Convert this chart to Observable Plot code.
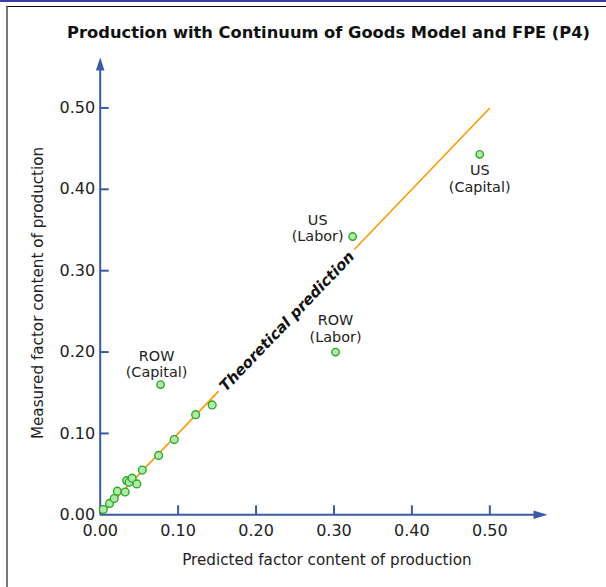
<!DOCTYPE html>
<html><head><meta charset="utf-8">
<script src="https://cdn.jsdelivr.net/npm/d3@7"></script>
<script src="https://cdn.jsdelivr.net/npm/@observablehq/plot@0.6"></script>
<style>
html,body{margin:0;padding:0;background:#fff;}
#wrap{position:relative;width:606px;height:587px;overflow:hidden;}
#chart{position:absolute;left:0;top:0;}
#topbar{position:absolute;left:0;top:0;width:606px;height:2px;background:#3a3aa8;}
#box{position:absolute;left:6px;top:6px;width:640px;height:640px;border-top:1px solid #111;border-left:2px solid #777;}
</style></head><body>
<div id="wrap"><div id="chart"></div><div id="topbar"></div><div id="box"></div></div>
<script>
// ---- data ----
const titleText = "Production with Continuum of Goods Model and FPE (P4)";
const xTitle = "Predicted factor content of production";
const yTitle = "Measured factor content of production";
const theoryLabel = "Theoretical prediction";

const xTickValues = [0, 0.1, 0.2, 0.3, 0.4, 0.5];
const yTickValues = [0, 0.1, 0.2, 0.3, 0.4, 0.5];

// unlabeled factor observations
const factorPredicted = [0.004, 0.012, 0.018, 0.022, 0.032, 0.034, 0.037, 0.041, 0.047, 0.054, 0.075, 0.095, 0.1225, 0.1437];
const factorMeasured  = [0.0065, 0.014, 0.020, 0.029, 0.028, 0.042, 0.040, 0.045, 0.038, 0.055, 0.073, 0.0925, 0.123, 0.135];

// labeled observations
const labeledNames     = ["ROW\n(Capital)", "US\n(Labor)", "ROW\n(Labor)", "US\n(Capital)"];
const labeledPredicted = [0.0775, 0.324, 0.302, 0.487];
const labeledMeasured  = [0.160, 0.342, 0.200, 0.443];

// theoretical prediction line (y = x), drawn in two pieces around its label
const theoryStart = [0, 0.326];
const theoryEnd   = [0.152, 0.5];

// ---- styling ----
const axisColor = "#3a5ba6";
const lineColor = "#ff9900";
const dotFill = "#b2e8a8";
const dotStroke = "#2aaa2a";
const textColor = "#222";
const xAxisEnd = 0.574, yAxisEnd = 0.562;

const arrowRight = {draw(ctx){ ctx.moveTo(0,0); ctx.lineTo(-14,-4.3); ctx.lineTo(-14,4.3); ctx.closePath(); }};
const arrowUp    = {draw(ctx){ ctx.moveTo(0,0); ctx.lineTo(-4.3,13); ctx.lineTo(4.3,13); ctx.closePath(); }};

const fIdx = factorPredicted.map((_, i) => i);
const lIdx = labeledNames.map((_, i) => i);
const tIdx = theoryStart.map((_, i) => i);

function labelMark(i, dx, dy) {
  return Plot.text([i], {
    x: j => labeledPredicted[j], y: j => labeledMeasured[j], text: j => labeledNames[j],
    dx, dy, fontSize: 14.4, lineHeight: 1.15, lineAnchor: "middle", textAnchor: "middle", fill: textColor
  });
}

const plot = Plot.plot({
  width: 606, height: 587,
  marginLeft: 99.7, marginRight: 59, marginTop: 57, marginBottom: 72.7,
  x: {domain: [0, xAxisEnd]},
  y: {domain: [0, yAxisEnd]},
  style: {fontFamily: "'DejaVu Sans', Verdana, sans-serif", fontSize: "16px", color: textColor, background: "transparent", overflow: "visible"},
  marks: [
    Plot.link(tIdx, {x1: i => theoryStart[i], y1: i => theoryStart[i], x2: i => theoryEnd[i], y2: i => theoryEnd[i], stroke: lineColor, strokeWidth: 1.6}),
    Plot.text([0], {x: () => 0.2398, y: () => 0.2375, text: () => theoryLabel, rotate: -46.2, fontWeight: "bold", fontStyle: "italic", fontSize: 15, fill: "#111", textAnchor: "middle", lineAnchor: "middle"}),
    // axis lines
    Plot.ruleX([0], {y1: 0, y2: yAxisEnd - 0.01, stroke: axisColor, strokeWidth: 2}),
    Plot.ruleY([0], {x1: 0, x2: xAxisEnd - 0.01, stroke: axisColor, strokeWidth: 2}),
    Plot.dot([0], {x: xAxisEnd, y: 0, symbol: arrowRight, fill: axisColor, stroke: null, r: 5}),
    Plot.dot([0], {x: 0, y: yAxisEnd, symbol: arrowUp, fill: axisColor, stroke: null, r: 5}),
    // inward ticks
    Plot.axisY({ticks: yTickValues.slice(1), tickSize: 9, dx: 9, tickFormat: () => "", stroke: axisColor, strokeWidth: 2, label: null}),
    Plot.axisX({ticks: xTickValues.slice(1), tickSize: 9, dy: -9, tickFormat: () => "", stroke: axisColor, strokeWidth: 2, label: null}),
    // tick labels
    Plot.axisY({ticks: yTickValues, tickSize: 0, tickPadding: 5, tickFormat: d3.format(".2f"), fontSize: 16, fill: textColor, label: null}),
    Plot.axisX({ticks: xTickValues, tickSize: 0, tickPadding: 10, tickFormat: d3.format(".2f"), fontSize: 16, fill: textColor, label: null}),
    // points
    Plot.dot(fIdx, {x: i => factorPredicted[i], y: i => factorMeasured[i], r: 3.9, fill: dotFill, stroke: dotStroke, strokeWidth: 1.4}),
    Plot.dot(lIdx, {x: i => labeledPredicted[i], y: i => labeledMeasured[i], r: 3.7, fill: dotFill, stroke: dotStroke, strokeWidth: 1.4}),
    labelMark(0, -4, -21),
    labelMark(1, -35, -9),
    labelMark(2, 0, -24),
    labelMark(3, 0, 24),
    // titles
    Plot.text([titleText], {frameAnchor: "top", text: d => d, dx: 4.7, dy: -25, textAnchor: "middle", lineAnchor: "middle", fontWeight: "bold", fontSize: 16.3, fill: "#111"}),
    Plot.text([xTitle], {frameAnchor: "bottom", text: d => d, dx: 3, dy: 45.7, textAnchor: "middle", lineAnchor: "middle", fontSize: 15.2, fill: textColor}),
    Plot.text([yTitle], {frameAnchor: "left", text: d => d, rotate: -90, dx: -61.7, dy: 6.8, textAnchor: "middle", lineAnchor: "middle", fontSize: 15.2, fill: textColor})
  ]
});
document.getElementById("chart").appendChild(plot);
</script>
</body></html>
